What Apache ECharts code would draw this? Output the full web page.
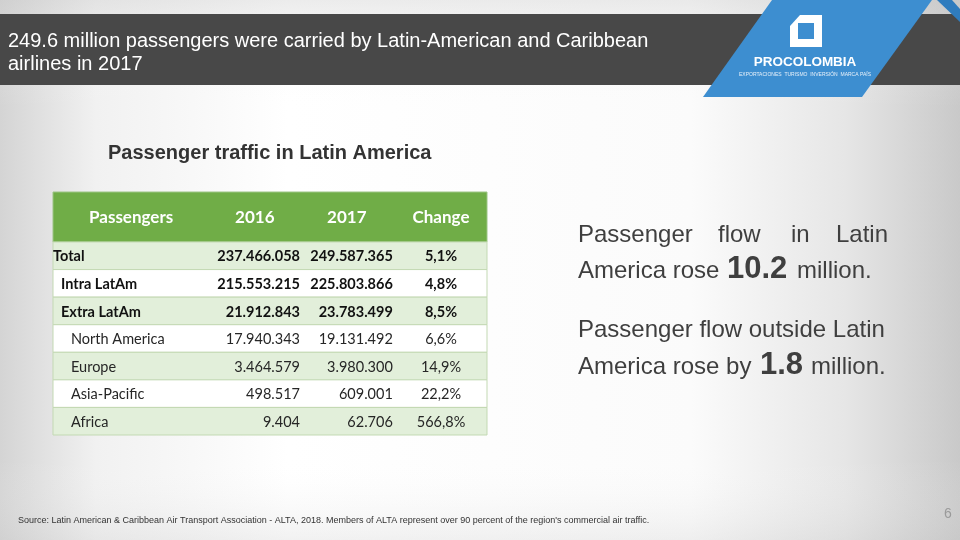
<!DOCTYPE html>
<html>
<head>
<meta charset="utf-8">
<script src="https://cdn.jsdelivr.net/npm/echarts@6/dist/echarts.min.js"></script>
<style>html,body{margin:0;padding:0;background:#fff}#main{width:960px;height:540px}</style>
</head>
<body>
<div id="main"></div>
<script>
const headerLabels = ['Passengers', '2016', '2017', 'Change'];
const rowLabels = ['Total', 'Intra LatAm', 'Extra LatAm', 'North America', 'Europe', 'Asia-Pacific', 'Africa'];
const rowLevels = [0, 1, 1, 2, 2, 2, 2];
const passengers2016 = [237466058, 215553215, 21912843, 17940343, 3464579, 498517, 9404];
const passengers2017 = [249587365, 225803866, 23783499, 19131492, 3980300, 609001, 62706];
const changePct = [5.1, 4.8, 8.5, 6.6, 14.9, 22.2, 566.8];

const titleLines = ['249.6 million passengers were carried by Latin-American and Caribbean', 'airlines in 2017'];
const subtitle = 'Passenger traffic in Latin America';
const sourceText = "Source: Latin American & Caribbean Air Transport Association - ALTA, 2018. Members of ALTA represent over 90 percent of the region's commercial air traffic.";

const fmtNum = n => String(n).replace(/\B(?=(\d{3})+(?!\d))/g, '.');
const fmtPct = n => n.toFixed(1).replace('.', ',') + '%';

const TF = 'Lato, "Open Sans", sans-serif';
const AF = '"Liberation Sans", Arial, sans-serif';

// column anchors as fractions of the table width
const hdrCenters = [0.180, 0.465, 0.677, 0.894];
const col2016Right = 0.569, col2017Right = 0.783, colChgCenter = 0.894;
const indentPx = [0, 8, 18];

function txt(x, y, text, align, font, fill) {
  return { type: 'text', style: { x: x, y: y, text: text, align: align, verticalAlign: 'middle', font: font, fill: fill } };
}

function renderHeader(params, api) {
  const cs = params.coordSys;
  const c = api.coord([0, api.value(1)]);
  const h = api.size([0, 1])[1];
  const children = [{ type: 'rect', shape: { x: cs.x, y: c[1] - h / 2, width: cs.width, height: h },
    style: { fill: '#70AD47', stroke: '#9CC585', lineWidth: 1 } }];
  headerLabels.forEach((lab, k) => {
    children.push(txt(api.coord([hdrCenters[k], 0])[0], c[1] + 1, lab, 'center', 'bold 17px ' + TF, '#FFFFFF'));
  });
  return { type: 'group', children: children };
}

function renderRow(params, api) {
  const cs = params.coordSys;
  const i = api.value(1);
  const c = api.coord([0, i]);
  const h = api.size([0, 1])[1];
  const lvl = rowLevels[i];
  const font = (lvl < 2 ? 'bold ' : '') + '14.5px ' + TF;
  const col = lvl < 2 ? '#111111' : '#262626';
  const y = c[1] + 1;
  return { type: 'group', children: [
    { type: 'rect', shape: { x: cs.x, y: c[1] - h / 2, width: cs.width, height: h },
      style: { fill: i % 2 === 0 ? '#E2EFDA' : '#FFFFFF', stroke: '#C3D9B3', lineWidth: 1 } },
    txt(cs.x + indentPx[lvl], y, rowLabels[i], 'left', font, col),
    txt(api.coord([col2016Right, i])[0], y, fmtNum(api.value(2)), 'right', font, col),
    txt(api.coord([col2017Right, i])[0], y, fmtNum(api.value(3)), 'right', font, col),
    txt(api.coord([colChgCenter, i])[0], y, fmtPct(api.value(4)), 'center', font, col)
  ] };
}

const chart = echarts.init(document.getElementById('main'), null, { renderer: 'canvas' });

const rightFont = '24px ' + AF;
const bigFont = 'bold 31px ' + AF;
const rc = '#3F3F3F';
function bt(x, yBase, text, font, size, fill, align) {
  return { type: 'text', z: 5, style: { x: x, y: yBase + size * 0.212, text: text, font: font, fill: fill, align: align || 'left', verticalAlign: 'bottom' } };
}

chart.setOption({
  animation: false,
  grid: [
    { left: 53, top: 192, width: 434, height: 50 },
    { left: 53, top: 242, width: 434, height: 193 }
  ],
  xAxis: [
    { gridIndex: 0, type: 'value', min: 0, max: 1, show: false },
    { gridIndex: 1, type: 'value', min: 0, max: 1, show: false }
  ],
  yAxis: [
    { gridIndex: 0, type: 'category', data: ['header'], show: false },
    { gridIndex: 1, type: 'category', data: rowLabels, inverse: true, show: false }
  ],
  graphic: [
    { type: 'rect', z: -100, shape: { x: 0, y: 0, width: 960, height: 540 },
      style: { fill: new echarts.graphic.LinearGradient(0, 0, 1, 0, [
        { offset: 0, color: '#d4d4d4' }, { offset: 0.1, color: '#f1f1f1' }, { offset: 0.3, color: '#ffffff' },
        { offset: 0.72, color: '#fbfbfb' }, { offset: 0.88, color: '#e6e6e6' }, { offset: 1, color: '#c9c9c9' }]) } },
    { type: 'rect', z: -99, shape: { x: 0, y: 0, width: 960, height: 540 },
      style: { fill: new echarts.graphic.LinearGradient(0, 0, 0, 1, [
        { offset: 0, color: 'rgba(200,200,200,0.35)' }, { offset: 0.2, color: 'rgba(255,255,255,0)' },
        { offset: 0.85, color: 'rgba(255,255,255,0)' }, { offset: 1, color: 'rgba(200,200,200,0.25)' }]) } },
    { type: 'rect', z: -90, shape: { x: 0, y: 14, width: 960, height: 71 }, style: { fill: '#484848' } },
    { type: 'polygon', z: -80, shape: { points: [[772, 0], [932, 0], [862, 97], [703, 97]] }, style: { fill: '#3D8ED0' } },
    { type: 'polygon', z: -80, shape: { points: [[937, 0], [952, 0], [960, 9], [960, 22]] }, style: { fill: '#2F7CBE' } },
    { type: 'rect', z: -70, shape: { x: 790, y: 15, width: 32, height: 32 }, style: { fill: '#ffffff' } },
    { type: 'rect', z: -69, shape: { x: 798, y: 23, width: 16, height: 16 }, style: { fill: '#3D8ED0' } },
    { type: 'polygon', z: -69, shape: { points: [[790, 15], [800, 15], [790, 26]] }, style: { fill: '#3D8ED0' } },
    { type: 'text', z: -60, style: { x: 805, y: 62, text: 'PROCOLOMBIA', align: 'center', verticalAlign: 'middle', font: 'bold 13.5px ' + AF, fill: '#ffffff' } },
    { type: 'text', z: -60, style: { x: 805, y: 75, text: 'EXPORTACIONES  TURISMO  INVERSIÓN  MARCA PAÍS', align: 'center', verticalAlign: 'middle', font: '5px ' + AF, fill: '#e8f1fa' } },
    { type: 'text', z: 5, style: { x: 8, y: 41, text: titleLines[0], verticalAlign: 'middle', font: '20px ' + AF, fill: '#ffffff' } },
    { type: 'text', z: 5, style: { x: 8, y: 64, text: titleLines[1], verticalAlign: 'middle', font: '20px ' + AF, fill: '#ffffff' } },
    { type: 'text', z: 5, style: { x: 108, y: 153, text: subtitle, verticalAlign: 'middle', font: 'bold 20px ' + AF, fill: '#333333' } },
    bt(578, 242, 'Passenger', rightFont, 24, rc),
    bt(718, 242, 'flow', rightFont, 24, rc),
    bt(791, 242, 'in', rightFont, 24, rc),
    bt(888, 242, 'Latin', rightFont, 24, rc, 'right'),
    bt(578, 278, 'America rose', rightFont, 24, rc),
    bt(727, 278, '10.2', bigFont, 31, rc),
    bt(797, 278, 'million.', rightFont, 24, rc),
    bt(578, 337, 'Passenger flow outside Latin', rightFont, 24, rc),
    bt(578, 374, 'America rose by', rightFont, 24, rc),
    bt(760, 374, '1.8', bigFont, 31, rc),
    bt(811, 374, 'million.', rightFont, 24, rc),
    { type: 'text', z: 5, style: { x: 18, y: 521, text: sourceText, verticalAlign: 'middle', font: '9px ' + AF, fill: '#333333' } },
    { type: 'text', z: 5, style: { x: 948, y: 514, text: '6', align: 'center', verticalAlign: 'middle', font: '14px ' + AF, fill: '#9a9a9a' } }
  ],
  series: [
    { type: 'custom', xAxisIndex: 0, yAxisIndex: 0, renderItem: renderHeader, data: [[0, 'header']] },
    { type: 'custom', xAxisIndex: 1, yAxisIndex: 1, renderItem: renderRow,
      data: rowLabels.map((r, i) => [0, r, passengers2016[i], passengers2017[i], changePct[i]]) }
  ]
});
</script>
</body>
</html>
